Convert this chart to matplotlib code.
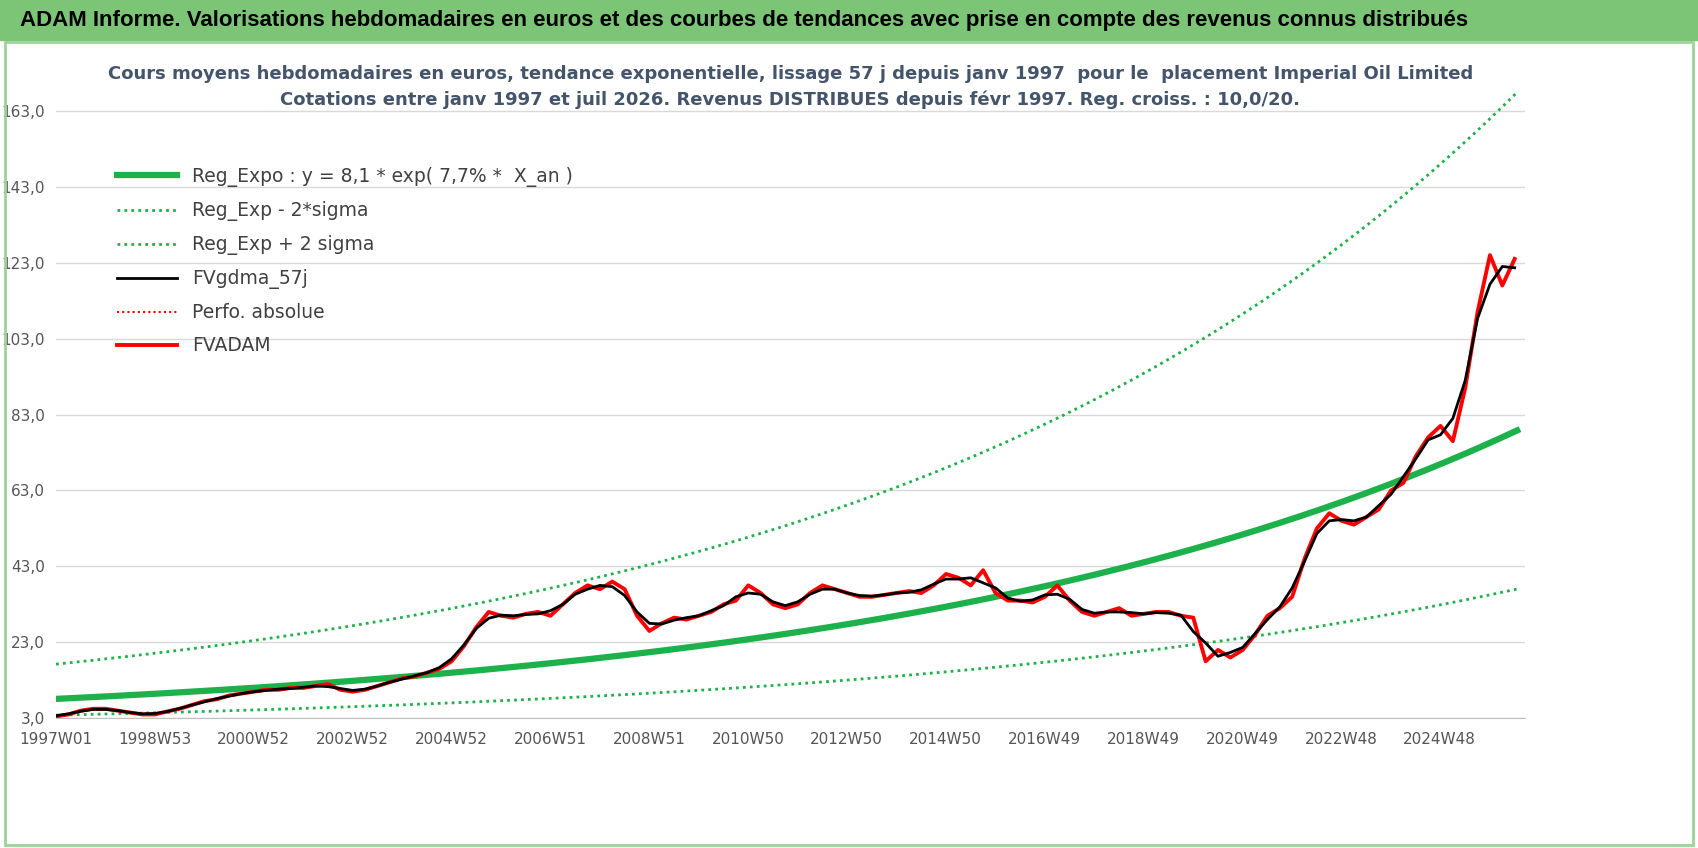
import matplotlib
matplotlib.use("Agg")
import matplotlib.pyplot as plt
import numpy as np

title_banner = "ADAM Informe. Valorisations hebdomadaires en euros et des courbes de tendances avec prise en compte des revenus connus distribués"
subtitle = ("Cours moyens hebdomadaires en euros, tendance exponentielle, lissage 57 j depuis janv 1997  pour le  placement Imperial Oil Limited\n"
            "Cotations entre janv 1997 et juil 2026. Revenus DISTRIBUES depuis févr 1997. Reg. croiss. : 10,0/20.")
tick_labels = ["1997W01","1998W53","2000W52","2002W52","2004W52","2006W51","2008W51",
               "2010W50","2012W50","2014W50","2016W49","2018W49","2020W49","2022W48","2024W48"]
yticks = [3,23,43,63,83,103,123,143,163]

years = [1997.0,1997.25,1997.5,1997.75,1998.0,1998.25,1998.5,1998.75,1999.0,1999.25,1999.5,1999.75,
         2000.0,2000.25,2000.5,2000.75,2001.0,2001.25,2001.5,2001.75,2002.0,2002.25,2002.5,2002.75,
         2003.0,2003.25,2003.5,2003.75,2004.0,2004.25,2004.5,2004.75,2005.0,2005.25,2005.5,2005.75,
         2006.0,2006.25,2006.5,2006.75,2007.0,2007.25,2007.5,2007.75,2008.0,2008.25,2008.5,2008.75,
         2009.0,2009.25,2009.5,2009.75,2010.0,2010.25,2010.5,2010.75,2011.0,2011.25,2011.5,2011.75,
         2012.0,2012.25,2012.5,2012.75,2013.0,2013.25,2013.5,2013.75,2014.0,2014.25,2014.5,2014.75,
         2015.0,2015.25,2015.5,2015.75,2016.0,2016.25,2016.5,2016.75,2017.0,2017.25,2017.5,2017.75,
         2018.0,2018.25,2018.5,2018.75,2019.0,2019.25,2019.5,2019.75,2020.0,2020.25,2020.5,2020.75,
         2021.0,2021.25,2021.5,2021.75,2022.0,2022.25,2022.5,2022.75,2023.0,2023.25,2023.5,2023.75,
         2024.0,2024.25,2024.5,2024.75,2025.0,2025.25,2025.5,2025.75,2026.0,2026.25,2026.5]
fvadam = [3.5,4.0,5.0,5.5,5.5,5.0,4.5,4.0,4.0,4.8,5.5,6.5,7.5,8.0,9.0,9.5,10.0,10.5,10.5,11.0,
          11.0,11.5,12.0,10.5,10.0,10.5,11.5,12.5,13.5,14.0,15.0,16.0,18.0,22.0,27.0,31.0,
          30.0,29.5,30.5,31.0,30.0,33.0,36.0,38.0,37.0,39.0,37.0,30.0,26.0,28.0,29.5,29.0,
          30.0,31.0,33.0,34.0,38.0,36.0,33.0,32.0,33.0,36.0,38.0,37.0,36.0,35.0,35.0,35.5,
          36.0,36.5,36.0,38.0,41.0,40.0,38.0,42.0,36.0,34.0,34.0,33.5,35.0,38.0,34.0,31.0,
          30.0,31.0,32.0,30.0,30.5,31.0,31.0,30.0,29.5,18.0,21.0,19.0,21.0,25.0,30.0,32.0,
          35.0,45.0,53.0,57.0,55.0,54.0,56.0,58.0,63.0,65.0,72.0,77.0,80.0,76.0,90.0,110.0,
          125.0,117.0,124.0]
fvgdma = np.convolve(np.pad(fvadam,1,mode='edge'), np.ones(3)/3, mode='valid')

a_coef, b_coef = 8.1, 0.077
sig_up, sig_dn = 2.13, 0.47

wk = lambda y: (np.asarray(y)-1997.0)*52.18
t = np.linspace(1997.0, 2026.55, 400)
reg = a_coef*np.exp(b_coef*(t-1997.0))

fig = plt.figure(figsize=(16.98,8.48), dpi=100)
fig.patch.set_facecolor("white")
fig.add_artist(plt.Rectangle((0,0.953),1,0.047,transform=fig.transFigure,color="#7CC576",zorder=0))
fig.add_artist(plt.Rectangle((0.003,0.003),0.994,0.948,transform=fig.transFigure,fill=False,ec="#9ed39a",lw=2))
fig.text(0.012,0.976,title_banner,fontsize=16,fontweight="bold",va="center",ha="left",family="Liberation Sans")
ax = fig.add_axes([0.033,0.153,0.865,0.77])
ax.text(0.5,1.0,subtitle,transform=ax.transAxes,ha="center",va="top",fontsize=13,fontweight="bold",color="#44546A",linespacing=1.5)

ax.plot(wk(t), reg, color="#1DB14B", lw=4.5, label="Reg_Expo : y = 8,1 * exp( 7,7% *  X_an )")
ax.plot(wk(t), reg*sig_dn, color="#1DB14B", lw=2, ls=(0,(1,1.5)), label="Reg_Exp - 2*sigma")
ax.plot(wk(t), reg*sig_up, color="#1DB14B", lw=2, ls=(0,(1,1.5)), label="Reg_Exp + 2 sigma")
ax.plot(wk(years), fvgdma, color="black", lw=2, label="FVgdma_57j", zorder=4)
ax.plot([], [], color="red", lw=1.5, ls=(0,(1,1.5)), label="Perfo. absolue")
ax.plot(wk(years), fvadam, color="red", lw=2.8, label="FVADAM", zorder=3)

ax.set_ylim(3,175)
ax.set_yticks(yticks)
ax.set_yticklabels([f"{v:.1f}".replace(".",",") for v in yticks], fontsize=11, color="#555555")
ax.set_xlim(0,1550)
ax.set_xticks([i*104.3 for i in range(len(tick_labels))])
ax.set_xticklabels(tick_labels, fontsize=11, color="#555555")
ax.grid(axis="y", color="#d9d9d9", lw=1)
ax.tick_params(axis="y", length=0, pad=8)
ax.tick_params(axis="x", length=0, pad=10)
for s in ["top","right","left"]:
    ax.spines[s].set_visible(False)
ax.spines["bottom"].set_color("#bfbfbf")
leg = ax.legend(loc="upper left", bbox_to_anchor=(0.03,0.87), frameon=False, fontsize=13.5, handlelength=3.2, labelspacing=0.75)
for tx in leg.get_texts(): tx.set_color("#404040")
fig.savefig("out.png", dpi=100)
